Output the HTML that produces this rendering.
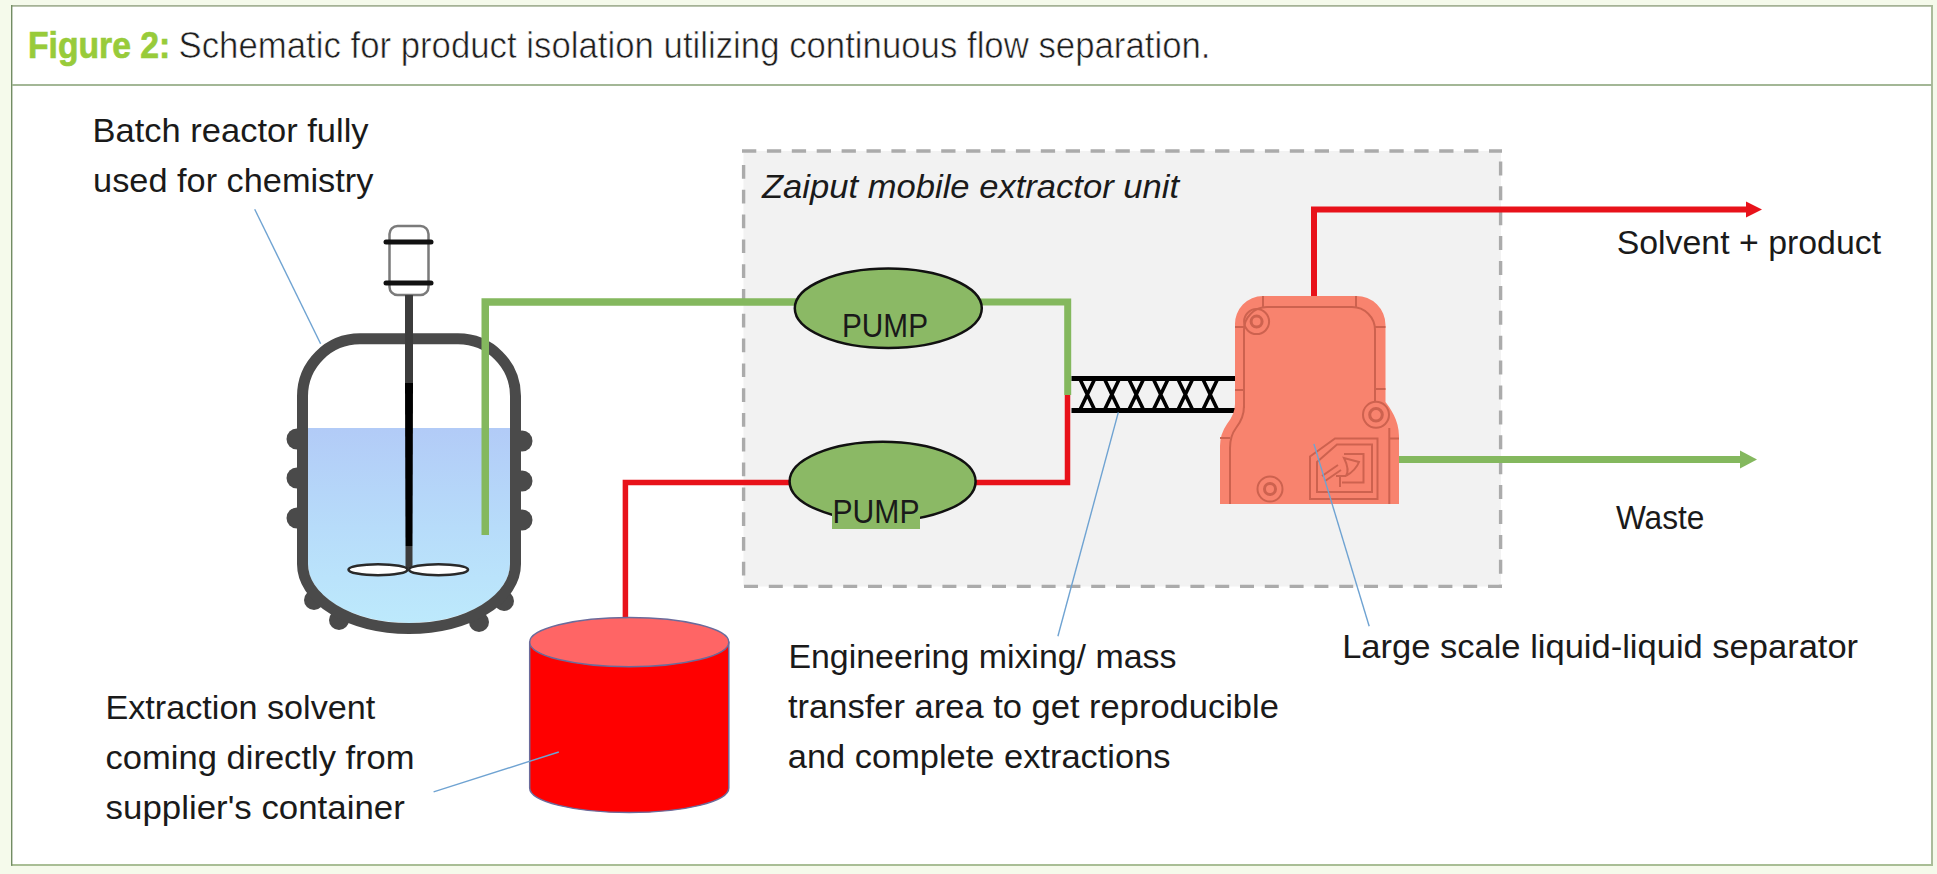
<!DOCTYPE html>
<html><head><meta charset="utf-8">
<style>
html,body{margin:0;padding:0;background:#f5faeb;width:1937px;height:874px;overflow:hidden}
svg{position:absolute;left:0;top:0;display:block}
text{font-family:"Liberation Sans",sans-serif}
</style></head><body>
<svg width="1937" height="874" viewBox="0 0 1937 874">
<defs>
<linearGradient id="liq" x1="0" y1="0" x2="0" y2="1">
<stop offset="0" stop-color="#b2cbf7"/>
<stop offset="0.5" stop-color="#b7dcfa"/>
<stop offset="1" stop-color="#bdeafc"/>
</linearGradient>
</defs>
<!-- frame -->
<rect x="11" y="6" width="1921" height="859" fill="#ffffff"/>
<line x1="11" y1="5.9" x2="1933" y2="5.9" stroke="#a5b296" stroke-width="1.9"/>
<line x1="1932" y1="5" x2="1932" y2="865.8" stroke="#a7b997" stroke-width="1.9"/>
<line x1="11" y1="864.9" x2="1933" y2="864.9" stroke="#a9be95" stroke-width="2"/>
<line x1="11.7" y1="5" x2="11.7" y2="865.8" stroke="#728c63" stroke-width="1.4"/>
<line x1="12" y1="85" x2="1932" y2="85" stroke="#a3b796" stroke-width="2"/>

<!-- title -->
<text x="28" y="58" font-size="37.5" font-weight="bold" fill="#98cb3a" stroke="#98cb3a" stroke-width="0.7" textLength="142.3" lengthAdjust="spacingAndGlyphs">Figure 2:</text>
<text x="178.5" y="58" font-size="37.5" fill="#1e1e1e" stroke="#ffffff" stroke-width="0.6" textLength="1032" lengthAdjust="spacingAndGlyphs">Schematic for product isolation utilizing continuous flow separation.</text>

<!-- dashed unit box -->
<rect x="743.5" y="151" width="757.5" height="435.5" fill="#f2f2f2"/>
<g stroke="#ababab" stroke-width="3.4" fill="none">
<path d="M742,151 L1502,151" stroke-dasharray="14.3 10.6"/>
<path d="M744,586.4 L1502,586.4" stroke-dasharray="14 10.8"/>
<path d="M743.6,165 L743.6,585" stroke-dasharray="13.7 11.1"/>
<path d="M1500.6,161.4 L1500.6,585" stroke-dasharray="14 10.9"/>
</g>


<!-- ===== reactor ===== -->
<clipPath id="vin"><path d="M308,564 L308,400 A52,52 0 0 1 360,344 L458,344 A52,52 0 0 1 510,400 L510,564 A101,59 0 0 1 409,623 A101,59 0 0 1 308,564 Z"/></clipPath>
<path d="M308,564 L308,400 A52,52 0 0 1 360,344 L458,344 A52,52 0 0 1 510,400 L510,564 A101,59 0 0 1 409,623 A101,59 0 0 1 308,564 Z" fill="#ffffff"/>
<rect x="300" y="428" width="220" height="200" fill="url(#liq)" clip-path="url(#vin)"/>
<g fill="#4a4a4a">
<circle cx="297" cy="439" r="10.5"/><circle cx="297" cy="478" r="10.5"/><circle cx="297" cy="518" r="10.5"/>
<circle cx="522" cy="441" r="10.5"/><circle cx="522" cy="481" r="10.5"/><circle cx="522" cy="520" r="10.5"/>
<circle cx="314" cy="600" r="10"/><circle cx="339" cy="620" r="10"/><circle cx="479" cy="622" r="10"/><circle cx="504" cy="601" r="10"/>
</g>
<path d="M302.5,564 L302.5,396 A57.5,57.5 0 0 1 360,338.8 L458,338.8 A57.5,57.5 0 0 1 515.5,396 L515.5,564 A106.5,64.5 0 0 1 409,628.5 A106.5,64.5 0 0 1 302.5,564 Z" fill="none" stroke="#4a4a4a" stroke-width="11"/>
<!-- motor -->
<rect x="389.5" y="226" width="39" height="69" rx="8" fill="#ffffff" stroke="#7a7a7a" stroke-width="2.5"/>
<line x1="386" y1="242" x2="431" y2="242" stroke="#111" stroke-width="5" stroke-linecap="round"/>
<line x1="386" y1="283" x2="431" y2="283" stroke="#111" stroke-width="5" stroke-linecap="round"/>
<rect x="405" y="295" width="8" height="90" fill="#3c3c3c"/>
<path d="M405,383 L413,383 L412.5,546 L405.5,546 Z" fill="#000"/>
<rect x="405.5" y="546" width="7" height="22" fill="#3c3c3c"/>
<ellipse cx="378" cy="569.7" rx="29.5" ry="5.5" fill="#fff" stroke="#2a2a2a" stroke-width="2.6"/>
<ellipse cx="438.5" cy="569.7" rx="29.5" ry="5.5" fill="#fff" stroke="#2a2a2a" stroke-width="2.6"/>

<!-- ===== pipes ===== -->
<path d="M485.25,535 L485.25,302 L800,302" fill="none" stroke="#84b85e" stroke-width="7.5"/>
<path d="M975,302 L1067.7,302 L1067.7,395" fill="none" stroke="#84b85e" stroke-width="7"/>
<path d="M625.4,618 L625.4,482.5 L795,482.5" fill="none" stroke="#e8121a" stroke-width="5.5"/>
<path d="M970,482.5 L1067.5,482.5 L1067.5,395" fill="none" stroke="#e8121a" stroke-width="5.5"/>

<!-- ===== cylinder ===== -->
<path d="M529.7,642.2 L529.7,788 A99.55,24.6 0 0 0 728.8,788 L728.8,642.2 Z" fill="#ff0000" stroke="#6b6b9b" stroke-width="1.5"/>
<ellipse cx="629.25" cy="642.2" rx="99.55" ry="24.6" fill="#ff6565" stroke="#6b6b9b" stroke-width="1.5"/>

<!-- ===== pumps ===== -->
<ellipse cx="888.3" cy="308.3" rx="93.5" ry="39.7" fill="#8bb965" stroke="#111" stroke-width="2.5"/>
<ellipse cx="882.6" cy="481.4" rx="93" ry="39.7" fill="#8bb965" stroke="#111" stroke-width="2.5"/>
<rect x="832" y="505" width="88" height="24" fill="#8bb965"/>
<g fill="#1a1a1a" font-size="33">
<text x="842" y="337" textLength="86" lengthAdjust="spacingAndGlyphs">PUMP</text>
<text x="832.5" y="522.6" textLength="87" lengthAdjust="spacingAndGlyphs">PUMP</text>
</g>

<!-- ===== mixer ===== -->
<g stroke="#000" stroke-width="5">
<line x1="1071.5" y1="378.5" x2="1235" y2="378.5"/>
<line x1="1071.5" y1="410.5" x2="1235" y2="410.5"/>
</g>
<g stroke="#000" stroke-width="3.6">
<path d="M1079.9,379 L1094.7,410 M1094.7,379 L1079.9,410"/>
<path d="M1104.5,379 L1119.3,410 M1119.3,379 L1104.5,410"/>
<path d="M1128.8,379 L1143.6,410 M1143.6,379 L1128.8,410"/>
<path d="M1153.3,379 L1168.1,410 M1168.1,379 L1153.3,410"/>
<path d="M1177.9,379 L1192.7,410 M1192.7,379 L1177.9,410"/>
<path d="M1202.8,379 L1217.6,410 M1217.6,379 L1202.8,410"/>
</g>

<!-- ===== arrows ===== -->
<path d="M1314,296 L1314,209.5 L1748,209.5" fill="none" stroke="#e8121a" stroke-width="6"/>
<path d="M1746,201.5 L1762,209.5 L1746,217.5 Z" fill="#e8121a"/>
<path d="M1399,459.5 L1742,459.5" fill="none" stroke="#84b85e" stroke-width="7"/>
<path d="M1740,450.5 L1757,459.5 L1740,468.5 Z" fill="#84b85e"/>

<!-- ===== separator ===== -->
<path d="M1263,296 L1356,296 A29,29 0 0 1 1385.5,325 L1385.5,402 C1390,408 1399,420 1399,436 L1399,504 L1220,504 L1220,446 Q1220,434 1227,424 Q1235,414 1235,404 L1235,325 A28,28 0 0 1 1263,296 Z" fill="#f8836e"/>
<g fill="none" stroke="#cd624f" stroke-width="2">
<path d="M1244,408 L1244,330 A23,23 0 0 1 1267,307 L1352,307 A23,23 0 0 1 1375,330 L1375,401"/>
<path d="M1263,296 L1263,307 M1356,296 L1356,307"/>
<path d="M1230,504 L1230,448 Q1230,436 1236,428 Q1244,418 1244,406"/>
<path d="M1389.3,504 L1389.3,428"/>
<path d="M1235,327 L1244,327 M1235,390 L1244,390 M1375,327 L1385.5,327 M1375,389 L1385.5,389 M1220,438 L1230,438 M1389.3,438.5 L1399,438.5"/>
</g>
<g fill="none" stroke="#cd624f" stroke-width="2">
<path d="M1310,456.5 L1335,438.5 L1377.5,438.5 L1377.5,499 L1310,499 Z"/>
<path d="M1317,462 L1337,444.5 L1372,444.5 L1372,492 L1317,492 Z"/>
<path d="M1344,454 L1363.5,454 L1363.5,482.5 L1342,482.5"/>
<path d="M1322,476 L1338,465 M1325,481 L1341,470"/>
<path d="M1336,476 L1346,476 M1340,476 L1340,487"/>
<path d="M1344,458 Q1350,470 1346,476 Q1356,470 1359,462 Z"/>
</g>
<g fill="none" stroke="#cd624f">
<circle cx="1256.6" cy="321.6" r="12.5" stroke-width="2"/><circle cx="1256.6" cy="321.6" r="5.5" stroke-width="3"/>
<circle cx="1376" cy="414.8" r="13" stroke-width="2"/><circle cx="1376" cy="414.8" r="6.3" stroke-width="3"/>
<circle cx="1270" cy="489" r="12.5" stroke-width="2"/><circle cx="1270" cy="489" r="5.5" stroke-width="3"/>
</g>

<!-- labels -->
<g fill="#1a1a1a" font-size="33">
<text x="92.6" y="142" textLength="276" lengthAdjust="spacingAndGlyphs">Batch reactor fully</text>
<text x="93.1" y="191.6" textLength="280.3" lengthAdjust="spacingAndGlyphs">used for chemistry</text>
<text x="762" y="197.8" font-style="italic" textLength="417" lengthAdjust="spacingAndGlyphs">Zaiput mobile extractor unit</text>
<text x="1616.7" y="254" textLength="264.4" lengthAdjust="spacingAndGlyphs">Solvent + product</text>
<text x="1615.9" y="529" textLength="88.6" lengthAdjust="spacingAndGlyphs">Waste</text>
<text x="105.4" y="719" textLength="270" lengthAdjust="spacingAndGlyphs">Extraction solvent</text>
<text x="105.6" y="769.4" textLength="309" lengthAdjust="spacingAndGlyphs">coming directly from</text>
<text x="105.6" y="819.2" textLength="299.2" lengthAdjust="spacingAndGlyphs">supplier's container</text>
<text x="788.4" y="668" textLength="388" lengthAdjust="spacingAndGlyphs">Engineering mixing/ mass</text>
<text x="788" y="717.6" textLength="490.9" lengthAdjust="spacingAndGlyphs">transfer area to get reproducible</text>
<text x="787.8" y="767.8" textLength="382.7" lengthAdjust="spacingAndGlyphs">and complete extractions</text>
<text x="1342.2" y="658.2" textLength="515.9" lengthAdjust="spacingAndGlyphs">Large scale liquid-liquid separator</text>
</g>

<!-- callout lines -->
<g stroke="#6fa3d2" stroke-width="1.4" fill="none">
<line x1="254.7" y1="209.2" x2="320.6" y2="343.8"/>
<line x1="433.6" y1="791.8" x2="558.8" y2="752"/>
<line x1="1118.3" y1="412.4" x2="1057.9" y2="636.3"/>
<line x1="1313.9" y1="443.9" x2="1369.2" y2="626.3"/>
</g>

</svg>
</body></html>
